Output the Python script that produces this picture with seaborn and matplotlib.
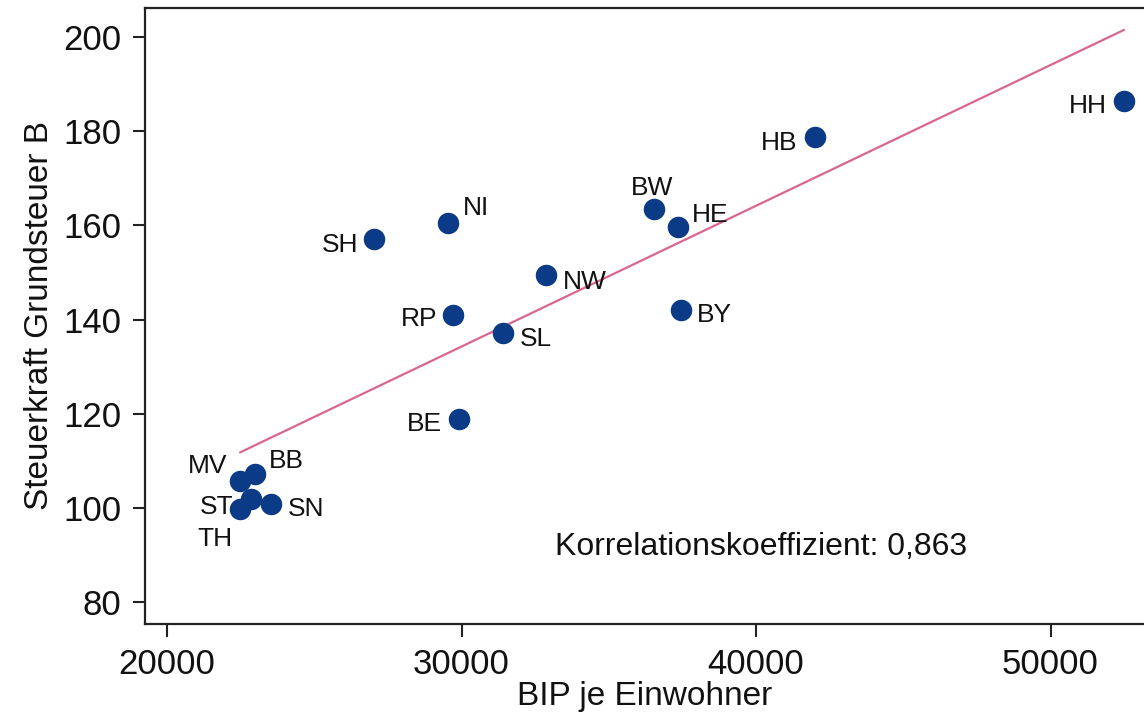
import matplotlib
matplotlib.use("Agg")
import matplotlib.pyplot as plt
import seaborn as sns
import pandas as pd

# Data
laender = ["HH", "HB", "BW", "HE", "NI", "SH", "NW", "RP", "BY", "SL", "BE",
           "MV", "BB", "ST", "TH", "SN"]
bip = [52496, 42003, 36537, 37352, 29542, 27029, 32870, 29711, 37453, 31409, 29915,
       22479, 22988, 22852, 22479, 23531]
steuerkraft = [186.4, 178.8, 163.5, 159.6, 160.5, 157.1, 149.5, 141.0, 142.0, 137.2, 118.9,
               105.7, 107.2, 101.9, 99.8, 100.8]
# label placement (pixel offsets, alignment)
label_dx = [-17, -18, -2, 14, 15, -16, 17, -16, 16, 17, -17, -13, 14, -18, -8, 17]
label_dy = [-5, -6, 21, 12, 15, -6, -7, -4, -5, -6, -5, 15, 13, -8, -30, -5]
label_ha = ["right", "right", "center", "left", "left", "right", "left", "right", "left",
            "left", "right", "right", "left", "right", "right", "left"]

x_ticks = [20000, 30000, 40000, 50000]
y_ticks = [80, 100, 120, 140, 160, 180, 200]

df = pd.DataFrame({"BIP": bip, "Steuerkraft": steuerkraft, "Land": laender})

sns.set_style("ticks")
plt.rcParams["font.family"] = ["Liberation Sans", "DejaVu Sans"]

fig = plt.figure(figsize=(11.44, 7.2), dpi=100)
ax = fig.add_axes([145 / 1144, 96 / 720, 1 - 145 / 1144, 616 / 720])

sns.regplot(data=df, x="BIP", y="Steuerkraft", scatter=False, ci=None, truncate=True,
            line_kws={"color": "#d8668f", "linewidth": 1.6}, ax=ax)
sns.scatterplot(data=df, x="BIP", y="Steuerkraft", s=240, color="#0b3a86",
                linewidth=0, ax=ax, zorder=3)

for name, xv, yv, dx, dy, ha in zip(laender, bip, steuerkraft, label_dx, label_dy, label_ha):
    ax.annotate(name, (xv, yv), xytext=(dx, dy), textcoords="offset pixels",
                ha=ha, va="center", fontsize=19, color="#111111", zorder=2)

ax.text(33175, 91.7, "Korrelationskoeffizient: 0,863", fontsize=23, ha="left",
        va="center", color="#111111")

ax.set_xlim(19250, 53175)
ax.set_ylim(75.3, 206.2)
ax.set_xticks(x_ticks)
ax.set_yticks(y_ticks)
ax.set_xticklabels([str(v) for v in x_ticks])
ax.set_yticklabels([str(v) for v in y_ticks])
ax.tick_params(axis="both", labelsize=25, length=9, width=1.5, color="#222222",
               labelcolor="#111111", pad=8)
ax.set_xlabel("BIP je Einwohner", fontsize=24, color="#111111", labelpad=0)
ax.set_ylabel("Steuerkraft Grundsteuer B", fontsize=24, color="#111111", labelpad=6)

for side in ["left", "bottom", "top"]:
    ax.spines[side].set_linewidth(1.6)
    ax.spines[side].set_color("#222222")
ax.spines["right"].set_visible(False)

fig.savefig("out.png", dpi=100)
